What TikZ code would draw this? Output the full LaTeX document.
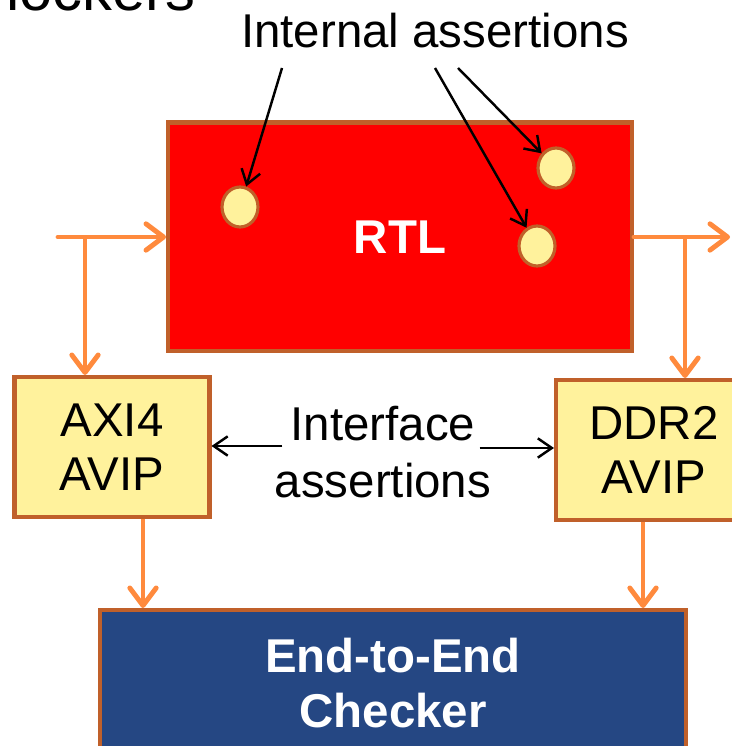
\documentclass[tikz,border=0pt]{standalone}
\usepackage{fontspec}
\setmainfont{Liberation Sans}
\usetikzlibrary{arrows.meta,shapes.geometric}
\definecolor{brd}{HTML}{C0602A}
\definecolor{pale}{HTML}{FFF29C}
\definecolor{feedor}{HTML}{FF8A3D}
\definecolor{rtlred}{HTML}{FF0000}
\definecolor{chkblue}{HTML}{254783}
\begin{document}
\begin{tikzpicture}[x=0.02cm, y=-0.02cm,
    box/.style={draw=brd, line width=2.3pt, inner sep=0pt, align=center},
    pin/.style={ellipse, draw=brd, fill=pale, line width=1.8pt, minimum width=0.72cm, minimum height=0.8cm, inner sep=0pt},
    feed/.style={-{Straight Barb[length=10pt,width=15pt,round]}, draw=feedor, line width=2.8pt, line cap=round},
    point/.style={-{Straight Barb[length=8pt,width=11pt]}, line width=1.4pt},
    txt/.style={font=\fontsize{27}{31}\selectfont},
    bold/.style={font=\fontsize{27}{31}\selectfont\bfseries, text=white}]
	\useasboundingbox (0,0) rectangle (732,746);
	\node[anchor=base west, font=\fontsize{34}{40}\selectfont, inner sep=0pt] (title) at (6,11) {lockers};
	\node[box, fill=rtlred, minimum width=9.28cm, minimum height=4.58cm, bold] (rtl) at (400,237) {RTL};
	\node[box, fill=pale, minimum width=3.9cm, minimum height=2.8cm, txt] (axi) at (112,447) {AXI4\\AVIP};
	\node[box, fill=pale, minimum width=3.92cm, minimum height=2.8cm, txt] (ddr) at (654,450) {DDR2\\AVIP};
	\node[box, fill=chkblue, minimum width=11.72cm, minimum height=2.92cm, bold] (chk) at (393,683) {End-to-End\\Checker};
	\node[pin] (pa) at (240,207) {};
	\node[pin] (pb) at (556,168) {};
	\node[pin] (pc) at (537,246) {};
	\node[txt, anchor=base, inner sep=0pt] (inter) at (435,48) {Internal assertions};
	\coordinate (sa) at (282,68);
	\coordinate (sb) at (458,68);
	\coordinate (sc) at (435,68);
	\draw[point] (sa) -- (pa);
	\draw[point] (sb) -- (pb);
	\draw[point] (sc) -- (pc);
	\node[txt, anchor=base, inner sep=0pt] (ifa) at (383,440) {Interface};
	\node[txt, anchor=base, inner sep=0pt] (ifb) at (383,497) {assertions};
	\draw[point] ([xshift=-0.16cm]ifa.west |- 0,446) coordinate (la) -- (la -| axi.east);
	\draw[point] ([xshift=0.08cm]ifa.east |- 0,448) coordinate (ra) -- (ra -| ddr.west);
	\coordinate (in) at (58,237);
	\coordinate (out) at (730,237);
	\coordinate (ba) at (85,237);
	\coordinate (bb) at (685,237);
	\draw[feed] (in) -- (in -| rtl.west);
	\draw[feed] (rtl.east |- out) -- (out);
	\draw[feed, line cap=butt] (ba) -- (ba |- axi.north);
	\draw[feed, line cap=butt] (bb) -- (bb |- ddr.north);
	\draw[feed, line cap=butt] ([xshift=0.62cm]axi.south) coordinate (da) -- (da |- chk.north);
	\draw[feed, line cap=butt] ([xshift=-0.22cm]ddr.south) coordinate (db) -- (db |- chk.north);
\end{tikzpicture}
\end{document}
